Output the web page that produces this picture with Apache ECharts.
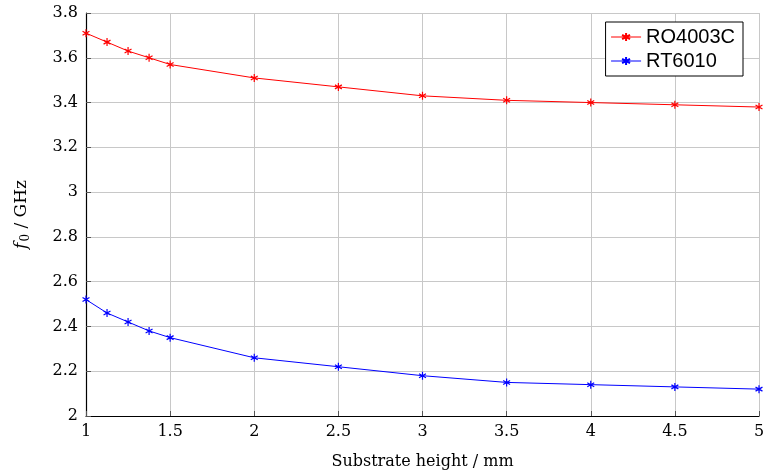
<!DOCTYPE html>
<html>
<head>
<meta charset="utf-8">
<title></title>
<script src="https://cdn.jsdelivr.net/npm/echarts@6/dist/echarts.min.js"></script>
<style>
	html, body { margin: 0; height: 100%; background: #fff; }
	#main { width: 764px; height: 475px; }
</style>
</head>
<body>
<div id="main"></div>
<script>
var heights = [1, 1.125, 1.25, 1.375, 1.5, 2, 2.5, 3, 3.5, 4, 4.5, 5];
var ro4003c = [3.71, 3.67, 3.63, 3.60, 3.57, 3.51, 3.47, 3.43, 3.41, 3.40, 3.39, 3.38];
var rt6010 = [2.52, 2.46, 2.42, 2.38, 2.35, 2.26, 2.22, 2.18, 2.15, 2.14, 2.13, 2.12];
var xTicks = [1, 1.5, 2, 2.5, 3, 3.5, 4, 4.5, 5];
var yTicks = [2, 2.2, 2.4, 2.6, 2.8, 3, 3.2, 3.4, 3.6, 3.8];

var star = 'path://M0,-1L0,1M-0.866,-0.5L0.866,0.5M-0.866,0.5L0.866,-0.5';
var serif = 'DejaVu Serif';

function pairs(ys) {
	var out = [];
	for (var i = 0; i < heights.length; i++) out.push([heights[i], ys[i]]);
	return out;
}

function fmt(v) {
	return String(Math.round(v * 10) / 10);
}

function makeSeries(name, color, ys) {
	return {
		name: name,
		type: 'line',
		data: pairs(ys),
		symbol: star,
		symbolSize: 8,
		symbolKeepAspect: true,
		lineStyle: { color: color, width: 1 },
		itemStyle: { color: 'transparent', borderColor: color, borderWidth: 1.2 },
		emphasis: { disabled: true },
		animation: false
	};
}

var chart = echarts.init(document.getElementById('main'));
chart.setOption({
	animation: false,
	grid: { left: 86, right: 5, top: 13, bottom: 59, outerBoundsMode: 'none', containLabel: false },
	legend: {
		orient: 'vertical',
		right: 21,
		top: 22,
		padding: [5, 8, 5, 5],
		itemGap: 4,
		itemWidth: 30,
		itemHeight: 10,
		borderColor: '#000',
		borderWidth: 1,
		backgroundColor: '#fff',
		borderRadius: 0,
		lineStyle: { width: 1 },
		textStyle: { fontFamily: 'Liberation Sans', fontSize: 20, color: '#000' },
		data: ['RO4003C', 'RT6010']
	},
	xAxis: {
		type: 'value',
		min: xTicks[0],
		max: xTicks[xTicks.length - 1],
		interval: 0.5,
		name: 'Substrate height / mm',
		nameLocation: 'middle',
		nameGap: 38,
		nameTextStyle: { fontFamily: serif, fontSize: 16, color: '#000' },
		axisLine: { show: true, lineStyle: { color: '#000', width: 1.2 } },
		axisTick: { show: true, inside: true, length: 5, lineStyle: { color: '#555' } },
		axisLabel: { fontFamily: serif, fontSize: 16, color: '#000', margin: 8, formatter: fmt },
		splitLine: { show: true, lineStyle: { color: '#c8c8c8', width: 1 } }
	},
	yAxis: {
		type: 'value',
		min: yTicks[0],
		max: yTicks[yTicks.length - 1],
		interval: 0.2,
		name: '{i|f}{s|0} / GHz',
		nameLocation: 'middle',
		nameRotate: 90,
		nameGap: 54,
		nameTextStyle: {
			fontFamily: serif, fontSize: 17, color: '#000',
			rich: {
				i: { fontFamily: serif, fontStyle: 'italic', fontSize: 17, color: '#000' },
				s: { fontFamily: serif, fontSize: 12, color: '#000', verticalAlign: 'bottom', padding: [8, 0, 0, 1] }
			}
		},
		axisLine: { show: true, lineStyle: { color: '#000', width: 1.2 } },
		axisTick: { show: true, inside: true, length: 5, lineStyle: { color: '#555' } },
		axisLabel: { fontFamily: serif, fontSize: 16, color: '#000', margin: 8, formatter: fmt },
		splitLine: { show: true, lineStyle: { color: '#c8c8c8', width: 1 } }
	},
	series: [
		makeSeries('RO4003C', '#ff0000', ro4003c),
		makeSeries('RT6010', '#0000ff', rt6010)
	]
});
</script>
</body>
</html>
